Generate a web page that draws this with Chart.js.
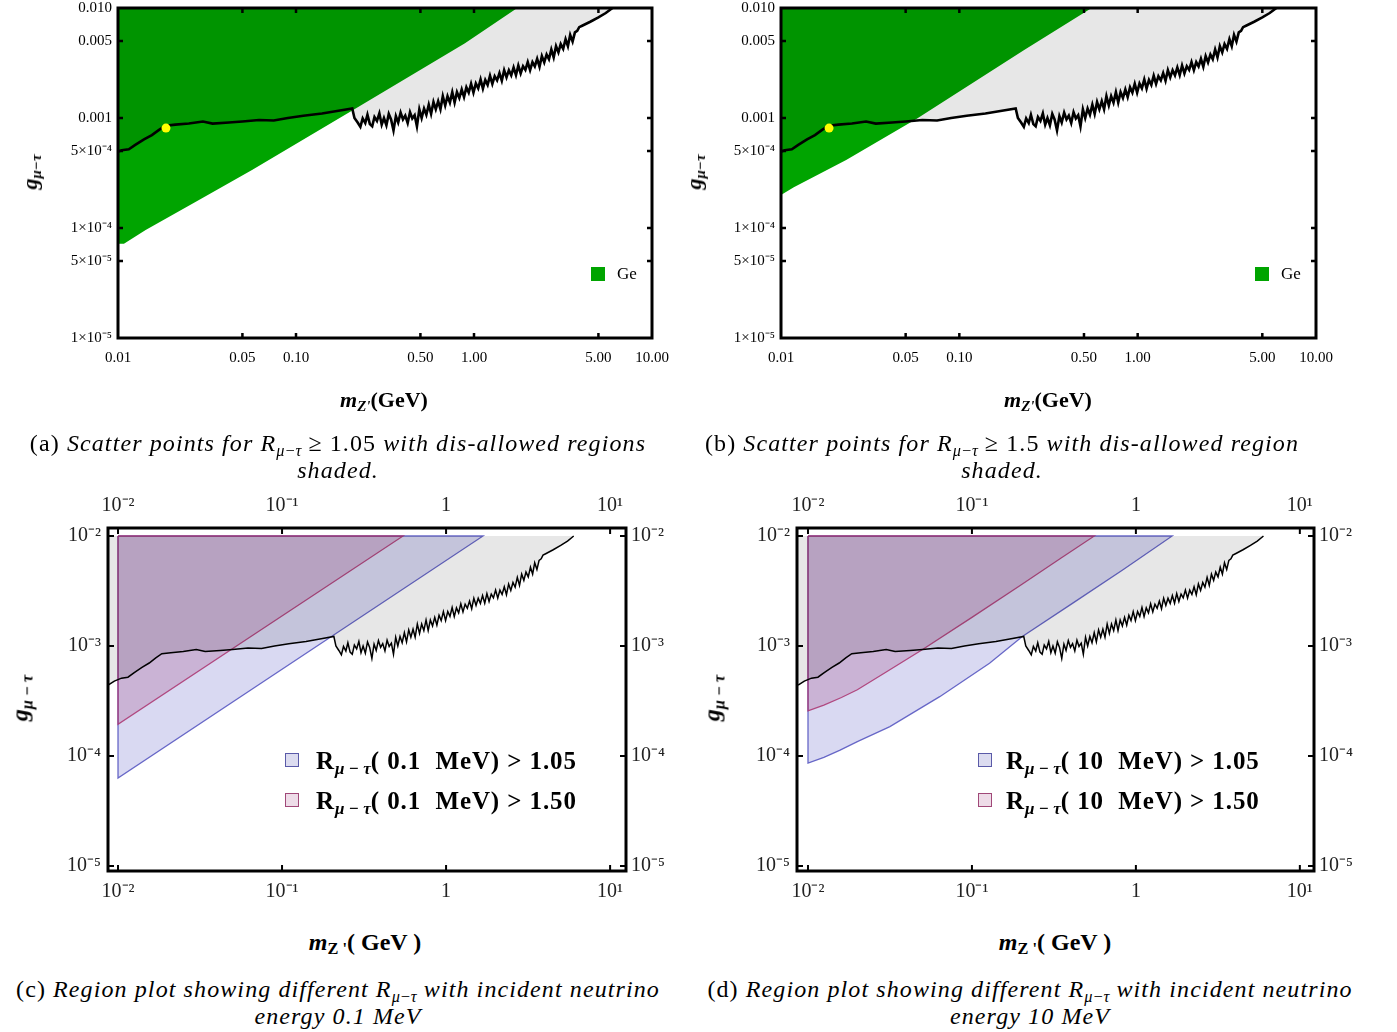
<!DOCTYPE html>
<html>
<head>
<meta charset="utf-8">
<script src="https://cdn.jsdelivr.net/npm/chart.js@4.4.0/dist/chart.umd.min.js"></script>
<style>
  body { margin: 0; width: 1397px; height: 1032px; position: relative; background: #fff; overflow: hidden;
         font-family: "Liberation Serif", "Times New Roman", Tinos, "DejaVu Serif", serif; color: #000; }
  canvas { position: absolute; }
  .t { position: absolute; white-space: nowrap; }
  .yt { transform: translate(-50%, -50%) rotate(-90deg); font-weight: bold; }
  .xt { transform: translate(-50%, -50%); font-weight: bold; }
  .cap { position: absolute; width: 800px; text-align: center; font-size: 24px; line-height: 27px; white-space: nowrap; letter-spacing: 1.1px; }
  .sq { position: absolute; width: 14px; height: 14px; box-sizing: border-box; }
  .lg { position: absolute; font-weight: bold; font-size: 25px; letter-spacing: 0.9px; transform: translateY(-50%); white-space: nowrap; }
  sub { font-size: 68%; vertical-align: -0.3em; line-height: 0; letter-spacing: 0; }
</style>
</head>
<body>
<canvas id="chartA" width="680" height="420" style="left:0;top:0"></canvas>
<canvas id="chartB" width="680" height="420" style="left:663px;top:0"></canvas>
<canvas id="chartC" width="690" height="440" style="left:0;top:480px"></canvas>
<canvas id="chartD" width="707" height="440" style="left:690px;top:480px"></canvas>

<!-- axis titles -->
<div class="t yt" style="left:30px;top:172px;font-size:22px"><i>g</i><sub><i>μ−τ</i></sub></div>
<div class="t yt" style="left:694px;top:172px;font-size:22px"><i>g</i><sub><i>μ−τ</i></sub></div>
<div class="t xt" style="left:384px;top:400px;font-size:22px"><i>m</i><sub><i>Z'</i></sub>(GeV)</div>
<div class="t xt" style="left:1048px;top:400px;font-size:22px"><i>m</i><sub><i>Z'</i></sub>(GeV)</div>
<div class="t yt" style="left:20px;top:698px;font-size:24px"><i>g</i><sub><i>μ − τ</i></sub></div>
<div class="t yt" style="left:712px;top:698px;font-size:24px"><i>g</i><sub><i>μ − τ</i></sub></div>
<div class="t xt" style="left:365px;top:942px;font-size:24px"><i>m</i><sub>Z '</sub>( GeV )</div>
<div class="t xt" style="left:1055px;top:942px;font-size:24px"><i>m</i><sub>Z '</sub>( GeV )</div>

<!-- legends -->
<div class="sq" style="left:591px;top:267px;background:#00a400"></div>
<div class="t" style="left:617px;top:264px;font-size:17px">Ge</div>
<div class="sq" style="left:1255px;top:267px;background:#00a400"></div>
<div class="t" style="left:1281px;top:264px;font-size:17px">Ge</div>

<div class="sq" style="left:285px;top:753px;border:1.5px solid #5a5aa8;background:#dcdcf0"></div>
<div class="lg" style="left:316px;top:761px">R<sub><i>μ − τ</i></sub>( 0.1 &nbsp;MeV) &gt; 1.05</div>
<div class="sq" style="left:285px;top:793px;border:1.5px solid #a04878;background:#eedce8"></div>
<div class="lg" style="left:316px;top:801px">R<sub><i>μ − τ</i></sub>( 0.1 &nbsp;MeV) &gt; 1.50</div>
<div class="sq" style="left:978px;top:753px;border:1.5px solid #5a5aa8;background:#dcdcf0"></div>
<div class="lg" style="left:1006px;top:761px">R<sub><i>μ − τ</i></sub>( 10 &nbsp;MeV) &gt; 1.05</div>
<div class="sq" style="left:978px;top:793px;border:1.5px solid #a04878;background:#eedce8"></div>
<div class="lg" style="left:1006px;top:801px">R<sub><i>μ − τ</i></sub>( 10 &nbsp;MeV) &gt; 1.50</div>

<!-- captions -->
<div class="cap" style="left:-62px;top:430px">(a) <i>Scatter points for R<sub>μ−τ</sub></i> ≥ 1.05 <i>with dis-allowed regions</i><br><i>shaded.</i></div>
<div class="cap" style="left:602px;top:430px">(b) <i>Scatter points for R<sub>μ−τ</sub></i> ≥ 1.5 <i>with dis-allowed region</i><br><i>shaded.</i></div>
<div class="cap" style="left:-62px;top:976px">(c) <i>Region plot showing different R<sub>μ−τ</sub> with incident neutrino</i><br><i>energy 0.1 MeV</i></div>
<div class="cap" style="left:630px;top:976px">(d) <i>Region plot showing different R<sub>μ−τ</sub> with incident neutrino</i><br><i>energy 10 MeV</i></div>

<script>
// excluded-region boundary (black curve), m_Z' in GeV vs g
var boundMass = [0.0087, 0.0095, 0.0105, 0.0115, 0.0125, 0.014, 0.0155, 0.017, 0.0185, 0.021, 0.025, 0.03, 0.034, 0.042, 0.05, 0.062, 0.075, 0.09, 0.11, 0.14, 0.17, 0.207,
  0.213, 0.222, 0.23, 0.237, 0.245, 0.252, 0.26, 0.268, 0.276, 0.285, 0.294, 0.303, 0.312, 0.322, 0.332, 0.342, 0.353, 0.364, 0.375, 0.387, 0.399, 0.411, 0.424, 0.437, 0.45, 0.464, 0.478,
  0.493, 0.508, 0.524, 0.54, 0.557, 0.574, 0.592, 0.61, 0.629, 0.648, 0.668, 0.689, 0.71, 0.732, 0.755, 0.778, 0.802, 0.827, 0.853, 0.879, 0.906, 0.934, 0.963, 0.993,
  1.024, 1.056, 1.089, 1.122, 1.157, 1.193, 1.23, 1.268, 1.307, 1.348, 1.39, 1.433, 1.477, 1.523, 1.57, 1.619, 1.669, 1.721, 1.774, 1.829, 1.886, 1.944,
  2.004, 2.066, 2.13, 2.196, 2.264, 2.334, 2.406, 2.481, 2.558, 2.637, 2.719, 2.803, 2.89, 2.98, 3.07, 3.17, 3.27, 3.37, 3.47, 3.58, 3.69, 3.8, 3.9, 4.05, 4.5, 5.0, 5.5, 6.0];
var boundG = [4.4e-4, 4.8e-4, 5.1e-4, 5.2e-4, 5.7e-4, 6.4e-4, 7.0e-4, 7.8e-4, 8.5e-4, 8.7e-4, 8.9e-4, 9.3e-4, 8.9e-4, 9.1e-4, 9.3e-4, 9.6e-4, 9.5e-4, 1.0e-3, 1.05e-3, 1.1e-3, 1.16e-3, 1.22e-3,
  1.0e-3, 9.1e-4, 8.3e-4, 9.9e-4, 9.0e-4, 1.07e-3, 8.8e-4, 8.4e-4, 1.02e-3, 9.4e-4, 1.1e-3, 8.7e-4, 1.0e-3, 8.6e-4, 1.09e-3, 9.7e-4, 7.7e-4, 1.04e-3, 9.1e-4, 1.12e-3, 9.7e-4, 1.05e-3, 9.0e-4, 1.13e-3, 9.9e-4, 1.06e-3, 8.4e-4,
  1.2e-3, 1.0e-3, 1.22e-3, 1.07e-3, 1.32e-3, 1.09e-3, 1.4e-3, 1.2e-3, 1.42e-3, 1.2e-3, 1.58e-3, 1.3e-3, 1.58e-3, 1.38e-3, 1.72e-3, 1.38e-3, 1.72e-3, 1.52e-3, 1.82e-3, 1.55e-3, 1.9e-3, 1.7e-3, 2.05e-3, 1.7e-3,
  2.06e-3, 1.86e-3, 2.24e-3, 1.85e-3, 2.22e-3, 2.0e-3, 2.42e-3, 2.04e-3, 2.4e-3, 2.2e-3, 2.56e-3, 2.18e-3, 2.72e-3, 2.34e-3, 2.72e-3, 2.44e-3, 2.88e-3, 2.45e-3, 3.0e-3, 2.54e-3, 2.96e-3, 2.74e-3,
  3.22e-3, 2.72e-3, 3.22e-3, 2.94e-3, 3.45e-3, 2.92e-3, 3.66e-3, 3.2e-3, 3.78e-3, 3.42e-3, 4.2e-3, 3.55e-3, 4.5e-3, 3.95e-3, 4.7e-3, 4.25e-3, 5.2e-3, 4.5e-3, 5.7e-3, 4.95e-3, 6.0e-3, 6.2e-3, 6.7e-3, 6.9e-3, 7.5e-3, 8.2e-3, 9.0e-3, 1.0e-2];

// Ge scatter region, panel (a) R >= 1.05 and panel (b) R >= 1.5
var geAMass = [0.01, 1.75, 0.89, 0.226, 0.0566, 0.0285, 0.0143, 0.0108, 0.01, 0.01];
var geAG = [0.01, 0.01, 4.77e-3, 1.27e-3, 3.37e-4, 1.8e-4, 9.6e-5, 7.2e-5, 7.2e-5, 0.01];
var geBMass = [0.01, 0.552, 0.231, 0.058, 0.0232, 0.0118, 0.01, 0.01];
var geBG = [0.01, 0.01, 4.15e-3, 9.9e-4, 4.15e-4, 2.35e-4, 2.0e-4, 0.01];
var bestMass = [0.0186];
var bestG = [8.1e-4];

// region plots, 0.1 MeV (c) and 10 MeV (d)
var blueCMass = [0.01, 1.68, 0.01, 0.01];
var blueCG = [0.01, 0.01, 6.3e-5, 0.01];
var pinkCMass = [0.01, 0.547, 0.01, 0.01];
var pinkCG = [0.01, 0.01, 1.94e-4, 0.01];
var blueDMass = [0.01, 1.665, 0.83, 0.41, 0.203, 0.128, 0.0636, 0.0316, 0.02, 0.0157, 0.0125, 0.01, 0.01];
var blueDG = [0.01, 0.01, 4.9e-3, 2.44e-3, 1.22e-3, 6.97e-4, 3.46e-4, 1.85e-4, 1.35e-4, 1.13e-4, 9.7e-5, 8.6e-5, 0.01];
var pinkDMass = [0.01, 0.558, 0.35, 0.2, 0.1, 0.05, 0.03, 0.02, 0.016, 0.0125, 0.01, 0.01];
var pinkDG = [0.01, 0.01, 6.3e-3, 3.6e-3, 1.82e-3, 9.3e-4, 5.8e-4, 4.0e-4, 3.4e-4, 2.9e-4, 2.57e-4, 0.01];

// ticks
var abXTicks = [0.01, 0.05, 0.1, 0.5, 1, 5, 10];
var abXLabels = ['0.01', '0.05', '0.10', '0.50', '1.00', '5.00', '10.00'];
var abYTicks = [1e-5, 5e-5, 1e-4, 5e-4, 1e-3, 5e-3, 1e-2];
var abYLabels = ['1×10⁻⁵', '5×10⁻⁵', '1×10⁻⁴', '5×10⁻⁴', '0.001', '0.005', '0.010'];
var cdXTicks = [0.01, 0.1, 1, 10];
var cdXLabels = ['10⁻²', '10⁻¹', '1', '10¹'];
var cdYTicks = [1e-5, 1e-4, 1e-3, 1e-2];
var cdYLabels = ['10⁻⁵', '10⁻⁴', '10⁻³', '10⁻²'];

var serif = "'Liberation Serif', 'Times New Roman', Tinos, serif";

function pts(xs, ys) {
  return xs.map(function (x, i) { return {x: x, y: ys[i]}; });
}

function region(xs, ys, fill, line, width, order) {
  return {data: pts(xs, ys), fill: 'shape', backgroundColor: fill, borderColor: line || 'rgba(0,0,0,0)',
    borderWidth: width || 0, pointRadius: 0, tension: 0, order: order};
}

function curve(width, order) {
  return {data: pts(boundMass, boundG), fill: false, borderColor: '#000', borderWidth: width,
    borderJoinStyle: 'miter', pointRadius: 0, tension: 0, order: order};
}

function shade(order) {
  // disallowed area above the boundary, up to g = 0.01
  return region(boundMass.concat([boundMass[0]]), boundG.concat([0.01]), 'rgba(0,0,0,0.095)', null, 0, order);
}

function axis(pos, min, max, vals, labels, size, pad, fontSize, color) {
  var vertical = pos === 'left' || pos === 'right';
  return {
    type: 'logarithmic', position: pos, min: min, max: max, bounds: 'data',
    grid: {display: false, drawTicks: false}, border: {display: false},
    afterBuildTicks: function (s) { s.ticks = vals.map(function (v) { return {value: v}; }); },
    afterFit: function (s) {
      if (vertical) { s.width = size; } else { s.height = size; }
      s.paddingTop = 0; s.paddingBottom = 0; s.paddingLeft = 0; s.paddingRight = 0;
    },
    ticks: {autoSkip: false, maxRotation: 0, padding: pad, color: color,
      font: {family: serif, size: fontSize},
      callback: function (v, i) { return labels[i]; }}
  };
}

function frame(xVals, yVals, frameW, tickW, tickLen) {
  return {
    id: 'frame',
    afterDatasetsDraw: function (chart) {
      var a = chart.chartArea, ctx = chart.ctx, sx = chart.scales.x, sy = chart.scales.y;
      ctx.save();
      ctx.strokeStyle = '#000';
      ctx.lineWidth = tickW;
      ctx.beginPath();
      xVals.forEach(function (v) {
        var p = sx.getPixelForValue(v);
        ctx.moveTo(p, a.bottom); ctx.lineTo(p, a.bottom - tickLen);
        ctx.moveTo(p, a.top); ctx.lineTo(p, a.top + tickLen);
      });
      yVals.forEach(function (v) {
        var p = sy.getPixelForValue(v);
        ctx.moveTo(a.left, p); ctx.lineTo(a.left + tickLen, p);
        ctx.moveTo(a.right, p); ctx.lineTo(a.right - tickLen, p);
      });
      ctx.stroke();
      ctx.lineWidth = frameW;
      ctx.strokeRect(a.left, a.top, a.right - a.left, a.bottom - a.top);
      ctx.restore();
    }
  };
}

function baseOptions(scales, padding) {
  return {
    responsive: false, animation: false, devicePixelRatio: 1,
    layout: {padding: padding},
    plugins: {legend: {display: false}, tooltip: {enabled: false}},
    scales: scales
  };
}

function scatterPanel(id, geMass, geG, rightPad) {
  new Chart(document.getElementById(id), {
    type: 'line',
    data: {datasets: [
      {data: pts(bestMass, bestG), showLine: false, pointRadius: 4.5, pointBackgroundColor: '#ffff00',
        pointBorderColor: '#ffff00', pointBorderWidth: 0, order: 0},
      curve(2.6, 1),
      shade(2),
      region(geMass, geG, '#00a400', null, 0, 3)
    ]},
    options: baseOptions({
      x: axis('bottom', 0.01, 10, abXTicks, abXLabels, 82, 11, 15, '#000'),
      y: axis('left', 1e-5, 0.01, abYTicks, abYLabels, 118, 6, 15, '#000')
    }, {top: 8, right: rightPad, left: 0, bottom: 0}),
    plugins: [frame(abXTicks.slice(1, 6), abYTicks.slice(1, 6), 3, 2.5, 5)]
  });
}

function regionPanel(id, blueMass, blueG, pinkMass, pinkG, xMin, xMax, leftW, rightW) {
  new Chart(document.getElementById(id), {
    type: 'line',
    data: {datasets: [
      curve(1.5, 0),
      shade(1),
      region(pinkMass, pinkG, 'rgba(160,70,130,0.26)', 'rgba(170,50,110,0.85)', 1.3, 2),
      region(blueMass, blueG, 'rgba(95,95,200,0.24)', 'rgba(80,80,190,0.85)', 1.3, 3)
    ]},
    options: baseOptions({
      x: axis('bottom', xMin, xMax, cdXTicks, cdXLabels, 49, 9, 20, '#222'),
      x2: axis('top', xMin, xMax, cdXTicks, cdXLabels, 48, 10, 20, '#222'),
      y: axis('left', 9.0e-6, 0.01182, cdYTicks, cdYLabels, leftW, 7, 20, '#222'),
      y2: axis('right', 9.0e-6, 0.01182, cdYTicks, cdYLabels, rightW, 5, 20, '#222')
    }, 0),
    plugins: [frame(cdXTicks, cdYTicks, 3, 2, 6)]
  });
}

scatterPanel('chartA', geAMass, geAG, 28);
scatterPanel('chartB', geBMass, geBG, 27);
regionPanel('chartC', blueCMass, blueCG, pinkCMass, pinkCG, 0.00869, 12.5, 108, 64);
regionPanel('chartD', blueDMass, blueDG, pinkDMass, pinkDG, 0.00857, 12.2, 107, 83);
</script>
</body>
</html>
